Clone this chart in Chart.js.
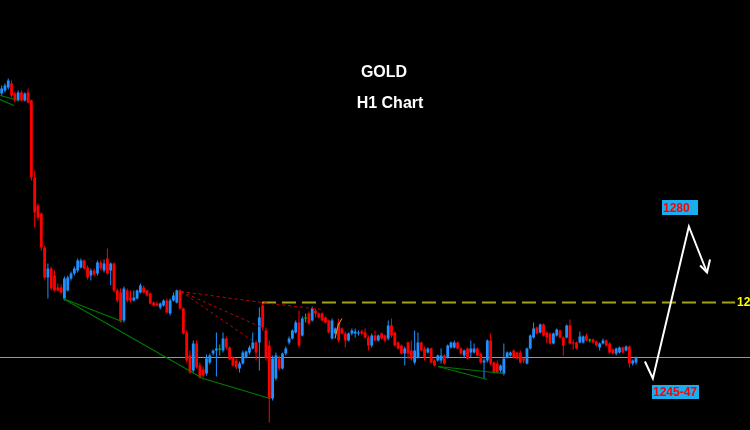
<!DOCTYPE html>
<html>
<head>
<meta charset="utf-8">
<title>GOLD H1</title>
<script src="https://cdn.jsdelivr.net/npm/chart.js@4/dist/chart.umd.min.js"></script>
<style>
  html, body { margin: 0; padding: 0; background: #000; overflow: hidden; }
</style>
</head>
<body>
<canvas id="myChart" width="750" height="430"></canvas>
<script>
// H1 candles, oldest first
const opens = [
  1302.8, 1303.4, 1304.0, 1304.8, 1302.8, 1301.4, 1303.0, 1301.4, 1303.0, 1301.4,
  1286.0, 1280.4, 1278.8, 1272.0, 1266.0, 1267.8, 1266.4, 1264.0, 1264.0, 1261.8,
  1263.4, 1265.8, 1266.8, 1267.4, 1268.0, 1269.4, 1268.0, 1266.4, 1267.4, 1266.8,
  1269.0, 1267.4, 1269.8, 1267.4, 1268.8, 1263.4, 1263.0, 1257.4, 1263.4, 1262.0,
  1261.4, 1261.8, 1263.0, 1264.0, 1263.4, 1262.8, 1261.0, 1260.8, 1260.0, 1260.4,
  1261.4, 1258.8, 1261.4, 1261.0, 1263.4, 1259.8, 1255.0, 1250.4, 1247.4, 1252.8,
  1248.4, 1247.6, 1246.8, 1249.0, 1250.8, 1251.4, 1251.6, 1251.4, 1253.8, 1252.0,
  1250.0, 1249.4, 1247.8, 1248.8, 1250.0, 1251.0, 1251.8, 1253.0, 1253.0, 1260.4,
  1255.4, 1252.4, 1241.8, 1245.8, 1249.8, 1247.8, 1250.8, 1253.0, 1253.8, 1255.0,
  1257.0, 1254.4, 1257.8, 1258.8, 1257.4, 1259.4, 1258.8, 1258.8, 1258.0, 1257.4,
  1253.8, 1254.8, 1257.0, 1255.8, 1254.8, 1253.4, 1254.8, 1254.8, 1254.8, 1255.2,
  1255.0, 1254.0, 1252.4, 1254.4, 1253.4, 1254.8, 1254.4, 1253.8, 1256.4, 1255.0,
  1253.0, 1252.4, 1250.8, 1253.0, 1251.4, 1249.0, 1250.0, 1253.0, 1251.8, 1251.0,
  1251.8, 1249.4, 1249.4, 1249.4, 1250.4, 1250.0, 1252.0, 1252.0, 1253.0, 1251.8,
  1250.4, 1251.8, 1251.0, 1251.0, 1251.8, 1250.8, 1249.0, 1249.4, 1253.4, 1249.0,
  1248.8, 1247.4, 1246.8, 1250.0, 1250.4, 1251.4, 1251.0, 1251.0, 1249.8, 1248.8,
  1251.8, 1254.0, 1256.0, 1255.0, 1256.6, 1255.0, 1254.8, 1252.8, 1254.4, 1255.4,
  1254.0, 1254.0, 1256.4, 1253.0, 1253.0, 1253.0, 1253.0, 1254.4, 1253.4, 1253.6,
  1253.2, 1252.0, 1252.8, 1253.4, 1252.8, 1251.6, 1250.8, 1251.0, 1252.0, 1251.4,
  1252.2, 1248.8, 1249.0
];
const highs = [
  1304.4, 1304.8, 1305.8, 1305.4, 1303.2, 1303.4, 1303.4, 1303.0, 1303.8, 1301.6,
  1287.4, 1280.8, 1279.0, 1272.4, 1268.8, 1268.2, 1267.4, 1264.8, 1264.6, 1266.2,
  1266.4, 1267.2, 1268.2, 1269.8, 1269.8, 1269.6, 1268.4, 1267.8, 1267.8, 1269.4,
  1269.4, 1269.6, 1271.8, 1269.0, 1269.0, 1263.8, 1263.8, 1264.2, 1263.8, 1263.4,
  1263.4, 1263.6, 1264.8, 1264.4, 1263.6, 1263.0, 1261.2, 1261.2, 1261.0, 1261.6,
  1261.8, 1261.8, 1263.0, 1263.6, 1263.6, 1260.0, 1255.4, 1251.4, 1253.4, 1253.4,
  1249.0, 1248.2, 1250.6, 1250.8, 1251.6, 1255.0, 1252.6, 1255.0, 1254.2, 1252.2,
  1250.2, 1249.8, 1249.2, 1251.4, 1251.4, 1252.4, 1255.0, 1253.4, 1260.0, 1261.0,
  1256.0, 1253.4, 1250.4, 1251.0, 1250.4, 1251.0, 1252.2, 1254.2, 1255.6, 1257.4,
  1259.4, 1258.2, 1258.8, 1259.2, 1260.2, 1259.8, 1259.0, 1259.0, 1258.2, 1257.6,
  1257.8, 1256.0, 1257.8, 1256.0, 1255.2, 1255.0, 1255.8, 1255.8, 1255.4, 1255.6,
  1255.8, 1254.4, 1254.8, 1255.4, 1254.6, 1255.0, 1254.6, 1257.4, 1257.8, 1255.2,
  1253.2, 1252.6, 1252.2, 1253.2, 1253.4, 1255.4, 1255.0, 1253.2, 1252.2, 1252.0,
  1252.0, 1249.6, 1250.6, 1251.8, 1250.6, 1252.6, 1253.2, 1253.4, 1253.2, 1252.0,
  1251.6, 1252.0, 1253.4, 1252.8, 1252.0, 1251.0, 1249.8, 1253.6, 1254.8, 1249.2,
  1249.4, 1248.6, 1252.8, 1251.2, 1251.2, 1251.6, 1251.2, 1251.4, 1250.0, 1252.0,
  1254.6, 1257.0, 1256.2, 1256.8, 1256.8, 1255.2, 1255.0, 1255.0, 1255.8, 1255.6,
  1254.2, 1256.6, 1257.6, 1253.6, 1253.2, 1255.2, 1254.4, 1254.8, 1253.8, 1253.8,
  1253.4, 1253.0, 1253.8, 1253.6, 1253.0, 1251.8, 1252.0, 1252.2, 1252.2, 1252.4,
  1252.4, 1249.6, 1250.2
];
const lows = [
  1302.4, 1303.0, 1303.6, 1302.0, 1301.0, 1301.2, 1301.2, 1301.2, 1300.8, 1285.4,
  1276.0, 1277.4, 1271.4, 1265.6, 1261.8, 1263.4, 1263.2, 1263.2, 1262.8, 1261.4,
  1263.2, 1265.4, 1266.4, 1267.0, 1267.8, 1267.6, 1265.6, 1265.4, 1266.2, 1266.4,
  1267.4, 1267.0, 1266.6, 1264.4, 1263.0, 1261.0, 1257.0, 1257.0, 1261.0, 1261.0,
  1261.2, 1261.6, 1262.8, 1262.8, 1262.2, 1260.6, 1260.2, 1260.2, 1259.6, 1260.2,
  1258.8, 1258.4, 1261.2, 1260.8, 1259.6, 1254.6, 1249.0, 1246.8, 1247.0, 1247.8,
  1245.8, 1246.0, 1246.4, 1248.6, 1250.4, 1246.2, 1250.4, 1251.0, 1251.6, 1249.4,
  1248.2, 1247.6, 1247.0, 1248.6, 1249.8, 1250.6, 1251.6, 1249.4, 1247.4, 1255.4,
  1249.4, 1237.0, 1241.4, 1245.4, 1247.4, 1247.6, 1250.4, 1252.6, 1253.6, 1254.8,
  1252.0, 1254.2, 1257.0, 1256.6, 1257.2, 1258.0, 1257.8, 1257.2, 1256.8, 1254.8,
  1253.6, 1254.6, 1253.0, 1254.6, 1252.0, 1253.2, 1254.4, 1254.0, 1254.4, 1254.4,
  1253.8, 1251.4, 1252.0, 1253.2, 1253.2, 1253.6, 1253.0, 1253.4, 1254.0, 1252.2,
  1251.6, 1250.6, 1248.4, 1249.8, 1249.4, 1248.6, 1249.8, 1251.2, 1249.4, 1250.8,
  1248.8, 1248.2, 1249.2, 1248.8, 1248.6, 1249.8, 1251.8, 1251.8, 1251.6, 1250.6,
  1250.0, 1249.6, 1250.0, 1250.8, 1250.2, 1248.8, 1245.8, 1249.0, 1248.4, 1246.8,
  1246.8, 1247.0, 1246.4, 1249.8, 1250.2, 1249.8, 1249.6, 1248.8, 1248.8, 1248.6,
  1251.6, 1253.8, 1254.6, 1254.8, 1254.2, 1252.8, 1252.6, 1252.6, 1254.2, 1253.8,
  1250.4, 1253.8, 1252.6, 1251.6, 1251.6, 1252.8, 1252.8, 1253.2, 1253.0, 1252.8,
  1252.2, 1251.4, 1252.6, 1252.2, 1250.8, 1250.6, 1250.4, 1250.8, 1250.8, 1251.2,
  1248.0, 1248.4, 1248.6
];
const closes = [
  1303.8, 1304.4, 1305.4, 1302.4, 1301.4, 1303.0, 1301.4, 1302.8, 1301.0, 1286.0,
  1279.0, 1278.0, 1272.0, 1266.0, 1267.8, 1263.8, 1263.4, 1263.4, 1263.0, 1265.8,
  1266.0, 1266.8, 1267.8, 1269.4, 1269.4, 1267.8, 1266.0, 1267.4, 1266.6, 1269.0,
  1267.8, 1268.8, 1266.8, 1268.8, 1263.4, 1261.4, 1257.4, 1263.8, 1261.4, 1261.4,
  1262.0, 1263.4, 1264.4, 1263.0, 1262.4, 1260.8, 1260.4, 1260.4, 1260.8, 1261.4,
  1259.0, 1261.4, 1262.4, 1263.4, 1259.8, 1254.8, 1249.4, 1247.0, 1252.8, 1248.0,
  1246.0, 1246.4, 1249.8, 1250.4, 1251.4, 1251.8, 1251.6, 1253.8, 1252.0, 1249.6,
  1248.4, 1248.0, 1248.8, 1251.0, 1251.2, 1252.0, 1253.0, 1251.0, 1258.0, 1256.0,
  1250.0, 1241.8, 1249.8, 1250.4, 1247.8, 1250.8, 1251.8, 1253.8, 1255.4, 1257.0,
  1252.4, 1257.8, 1257.8, 1256.8, 1259.8, 1258.8, 1258.0, 1257.4, 1257.0, 1255.0,
  1257.4, 1255.8, 1253.4, 1254.8, 1253.4, 1254.8, 1255.4, 1255.2, 1255.0, 1254.8,
  1254.0, 1252.4, 1254.4, 1253.4, 1254.4, 1253.8, 1253.4, 1256.4, 1254.4, 1252.4,
  1251.8, 1250.8, 1251.8, 1250.8, 1249.8, 1251.4, 1253.0, 1251.4, 1250.0, 1251.8,
  1249.0, 1248.4, 1250.4, 1250.4, 1248.8, 1252.4, 1253.0, 1253.0, 1251.8, 1250.8,
  1251.4, 1249.8, 1251.8, 1251.8, 1250.4, 1249.0, 1249.4, 1253.4, 1248.8, 1247.0,
  1247.0, 1248.4, 1249.8, 1251.0, 1251.0, 1250.0, 1249.8, 1249.0, 1249.4, 1251.8,
  1254.4, 1255.8, 1254.8, 1256.6, 1254.4, 1254.0, 1252.8, 1254.8, 1255.6, 1254.0,
  1252.4, 1256.4, 1252.8, 1252.8, 1251.8, 1254.2, 1254.2, 1253.4, 1253.4, 1253.0,
  1252.4, 1252.8, 1253.4, 1252.4, 1251.0, 1250.8, 1251.8, 1252.0, 1251.0, 1252.2,
  1248.8, 1249.4, 1250.0
];

// bar slots across the window (empty ones on the right for the projection)
const slots = 227;
const priceMin = 1235.5;
const priceMax = 1321.5;

const currentPrice = 1250;      // grey bid line
const resistance = 1261;        // dashed level
const resistanceFrom = 78.8;    // starts at the spike high
const resistanceTo = 222;

// drawn objects as [bar index, price]
const greenLines = [
  [[-0.5, 1302.4], [5.25, 1301.4]],
  [[-0.5, 1301.6], [3.74, 1300.4]],
  [[18.57, 1261.8], [36.42, 1257.2]],
  [[18.57, 1261.8], [60.94, 1245.8], [81.22, 1241.8]],
  [[132.07, 1248.2], [146.89, 1245.6]],
  [[132.07, 1248.2], [152.04, 1246.8]]
];
const fanLines = [
  [[54.28, 1263.2], [78.8, 1261.0], [96.96, 1259.6]],
  [[54.28, 1263.2], [78.8, 1256.0]],
  [[54.28, 1263.2], [75.77, 1253.4]]
];
const gannLine = [[100.9, 1253.8], [101.8, 1256.4], [103.0, 1257.8]];
const forecastPath = [[194.7, 1249.2], [197.1, 1245.8], [208.0, 1276.2], [213.5, 1267.0]];
const arrowHead = [[211.4, 1268.4], [213.5, 1267.0], [214.4, 1269.6]];

const boxLabels = [
  { text: '1280', idx: 205.3, price: 1280.0, w: 36, h: 15 },
  { text: '1245-47', idx: 203.9, price: 1243.1, w: 47, h: 14 }
];

function candleColor(i) {
    if (opens[i] === closes[i]) return '#10c010';
    return closes[i] > opens[i] ? '#1e90ff' : '#ff0000';
}

function toPoints(list) {
    return list.map(p => ({ x: p[0], y: p[1] }));
}

function lineSet(points, color, width, dash, order) {
    return {
        type: 'line',
        data: toPoints(points),
        borderColor: color,
        borderWidth: width,
        borderDash: dash || [],
        pointRadius: 0,
        fill: false,
        tension: 0,
        order: order
    };
}

let datasets = [];

datasets.push(lineSet([[-0.5, currentPrice], [slots - 0.5, currentPrice]], '#8d99ad', 1, null, 10));

datasets.push({
    label: 'wick',
    data: opens.map((o, i) => ({ x: i, y: [lows[i], highs[i]] })),
    backgroundColor: ctx => candleColor(ctx.dataIndex),
    barThickness: 1,
    grouped: false,
    inflateAmount: 0,
    order: 6
});
datasets.push({
    label: 'body',
    data: opens.map((o, i) => ({ x: i, y: [o, closes[i]] })),
    backgroundColor: ctx => candleColor(ctx.dataIndex),
    barThickness: 2.8,
    minBarLength: 1,
    grouped: false,
    inflateAmount: 0,
    order: 5
});

datasets.push(lineSet([[resistanceFrom, resistance], [resistanceTo, resistance]], '#a3a312', 2, [14, 6], 3));
greenLines.forEach(l => datasets.push(lineSet(l, '#007a00', 1.2, null, 2)));
fanLines.forEach(l => datasets.push(lineSet(l, '#c80000', 1, [3, 3], 2)));
datasets.push(lineSet(gannLine, '#d8a020', 1, null, 2));
datasets.push(lineSet(forecastPath, '#ffffff', 2, null, 1));
datasets.push(lineSet(arrowHead, '#ffffff', 2, null, 1));

const textPlugin = {
    id: 'chartText',
    afterDatasetsDraw(chart) {
        const ctx = chart.ctx;
        const x = chart.scales.x;
        const y = chart.scales.y;
        ctx.save();
        ctx.fillStyle = '#ffffff';
        ctx.font = 'bold 16px "Liberation Sans", Arial, sans-serif';
        ctx.textAlign = 'center';
        ctx.textBaseline = 'middle';
        ctx.fillText('GOLD', 384, 73);
        ctx.fillText('H1 Chart', 390, 104);

        ctx.font = 'bold 12px "Liberation Sans", Arial, sans-serif';
        ctx.textAlign = 'left';
        boxLabels.forEach(b => {
            const cx = x.getPixelForValue(b.idx);
            const cy = y.getPixelForValue(b.price);
            const left = Math.round(cx - b.w / 2);
            const top = Math.round(cy - b.h / 2);
            ctx.fillStyle = '#1aaeef';
            ctx.fillRect(left, top, b.w, b.h);
            ctx.fillStyle = '#ff0000';
            ctx.fillText(b.text, left + 1, top + b.h / 2 + 1);
        });

        ctx.fillStyle = '#ffff00';
        ctx.fillText(resistance.toFixed(2), x.getPixelForValue(222.6), y.getPixelForValue(resistance));
        ctx.restore();
    }
};

let myChart = new Chart(document.getElementById('myChart'), {
    type: 'bar',
    data: { datasets: datasets },
    options: {
        responsive: false,
        animation: false,
        devicePixelRatio: 1,
        layout: { padding: 0 },
        plugins: {
            legend: { display: false },
            tooltip: { enabled: false }
        },
        scales: {
            x: { type: 'linear', min: -0.5, max: slots - 0.5, offset: false, display: false },
            y: { min: priceMin, max: priceMax, display: false }
        }
    },
    plugins: [textPlugin]
});
</script>
</body>
</html>
